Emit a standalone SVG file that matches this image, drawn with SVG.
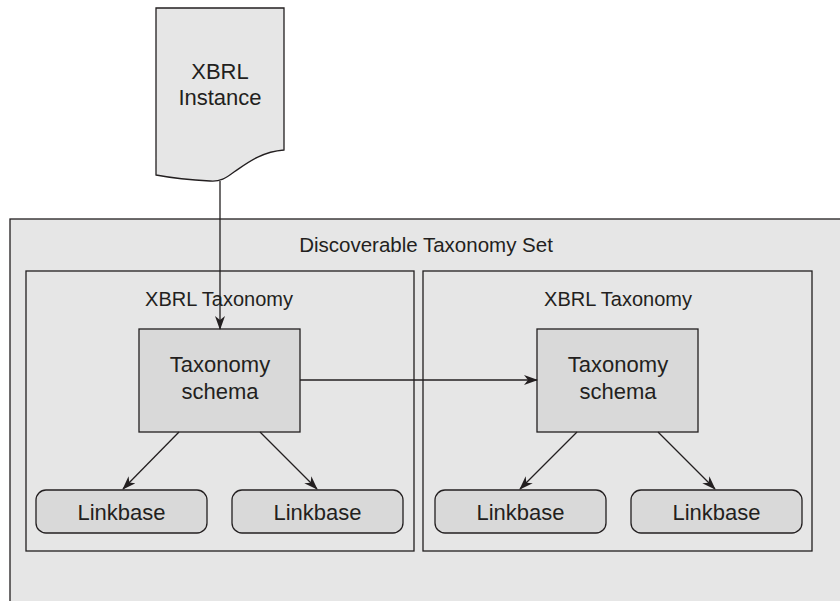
<svg xmlns="http://www.w3.org/2000/svg" width="840" height="601" viewBox="0 0 840 601">
  <style>
    .t { font-family: "Liberation Sans", Arial, sans-serif; font-size: 20px; fill: #231f20; text-anchor: middle; }
    .n { font-size: 22px; }
    .frame { fill: #e6e6e6; stroke: #231f20; stroke-width: 1.3; }
    .box { fill: #d9d9d9; stroke: #231f20; stroke-width: 1.3; }
    .edge { fill: none; stroke: #231f20; stroke-width: 1.3; marker-end: url(#arr); }
  </style>
  <defs>
    <marker id="arr" markerUnits="userSpaceOnUse" markerWidth="14" markerHeight="10" viewBox="0 0 14 10" refX="13" refY="5" orient="auto">
      <path d="M0,0 L14,5 L0,10 L4,5 z" fill="#231f20"/>
    </marker>
  </defs>
  <rect width="840" height="601" fill="#ffffff"/>

  <g id="dts">
    <rect class="frame" x="10" y="219" width="850" height="400"/>
    <text class="t" x="426" y="252" style="font-size:20.5px">Discoverable Taxonomy Set</text>
  </g>

  <g id="taxonomy-left">
    <rect class="frame" x="26" y="271" width="388" height="280"/>
    <text class="t" x="219" y="306">XBRL Taxonomy</text>
  </g>
  <g id="taxonomy-right">
    <rect class="frame" x="423" y="271" width="389" height="280"/>
    <text class="t" x="618" y="306">XBRL Taxonomy</text>
  </g>

  <g id="instance">
    <path class="frame" d="M156,8 H284 V150 C260,152 246,164 234,172 C226,178 220,182 210,181 C190,180 172,178 156,175 Z"/>
    <text class="t n" x="220" y="79">XBRL</text>
    <text class="t n" x="220" y="105">Instance</text>
  </g>

  <g id="schema-left">
    <rect class="box" x="139" y="329" width="161" height="103"/>
    <text class="t n" x="220" y="372">Taxonomy</text>
    <text class="t n" x="220" y="399">schema</text>
  </g>
  <g id="schema-right">
    <rect class="box" x="537" y="329" width="161" height="103"/>
    <text class="t n" x="618" y="372">Taxonomy</text>
    <text class="t n" x="618" y="399">schema</text>
  </g>

  <g id="linkbase-1">
    <rect class="box" x="36" y="490" width="171" height="43" rx="10"/>
    <text class="t n" x="121.5" y="520">Linkbase</text>
  </g>
  <g id="linkbase-2">
    <rect class="box" x="232" y="490" width="171" height="43" rx="10"/>
    <text class="t n" x="317.5" y="520">Linkbase</text>
  </g>
  <g id="linkbase-3">
    <rect class="box" x="435" y="490" width="171" height="43" rx="10"/>
    <text class="t n" x="520.5" y="520">Linkbase</text>
  </g>
  <g id="linkbase-4">
    <rect class="box" x="631" y="490" width="171" height="43" rx="10"/>
    <text class="t n" x="716.5" y="520">Linkbase</text>
  </g>

  <g id="connectors">
    <path class="edge" d="M220,181 V329"/>
    <path class="edge" d="M300,380 H537"/>
    <path class="edge" d="M179,432 L123,489"/>
    <path class="edge" d="M260,432 L317,489"/>
    <path class="edge" d="M577,432 L520,489"/>
    <path class="edge" d="M658,432 L715,489"/>
  </g>
</svg>
